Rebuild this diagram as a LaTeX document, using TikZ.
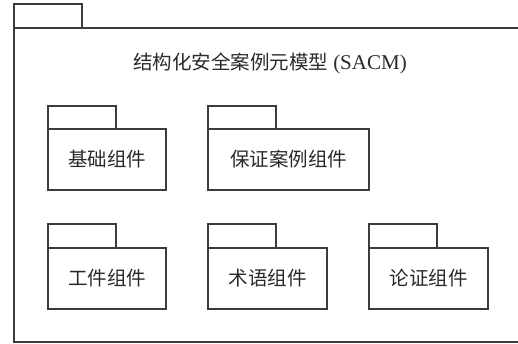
\documentclass[tikz,border=0pt]{standalone}
\usepackage{fontspec}
\setmainfont{Liberation Serif}
\newfontfamily\cjk{Noto Sans CJK SC}
\definecolor{linegray}{HTML}{3C3C3C}
\definecolor{textgray}{HTML}{2A2A2A}
\begin{document}
\begin{tikzpicture}[x=1pt,y=-1pt,
  pkgbody/.style={draw=linegray, line width=1.4pt, fill=white, inner sep=0pt, outer sep=0pt,
    text=textgray, font=\cjk\fontsize{19.5}{22}\selectfont},
  pkgtab/.style={draw=linegray, line width=1.4pt, fill=white, inner sep=0pt, outer sep=0pt,
    minimum width=68pt, minimum height=23pt, anchor=south west},
  titletext/.style={text=textgray, inner sep=0pt}]
\useasboundingbox (0,0) rectangle (518,343);
% outer package
\node[pkgtab, minimum height=24pt] (otab) at (14,28) {};
\node[pkgbody, anchor=north west, minimum width=520pt, minimum height=314pt] (outer) at (14,28) {};
\node[titletext] (title) at (270,63) {{\cjk\fontsize{19.5}{22}\selectfont 结构化安全案例元模型}\hspace{5pt}{\fontsize{21}{24}\selectfont(SACM)}};
% row 1
\node[pkgbody, minimum width=118pt, minimum height=61pt] (b1) at (107,159.5) {基础组件};
\node[pkgtab] (t1) at (b1.north west) {};
\node[pkgbody, minimum width=161pt, minimum height=61pt] (b2) at (288.5,159.5) {保证案例组件};
\node[pkgtab] (t2) at (b2.north west) {};
% row 2
\node[pkgbody, minimum width=118pt, minimum height=61pt] (b3) at (107,278.5) {工件组件};
\node[pkgtab, minimum height=24pt] (t3) at (b3.north west) {};
\node[pkgbody, minimum width=119pt, minimum height=61pt] (b4) at (267.5,278.5) {术语组件};
\node[pkgtab, minimum height=24pt] (t4) at (b4.north west) {};
\node[pkgbody, minimum width=119pt, minimum height=61pt] (b5) at (428.5,278.5) {论证组件};
\node[pkgtab, minimum height=24pt] (t5) at (b5.north west) {};
\end{tikzpicture}
\end{document}
